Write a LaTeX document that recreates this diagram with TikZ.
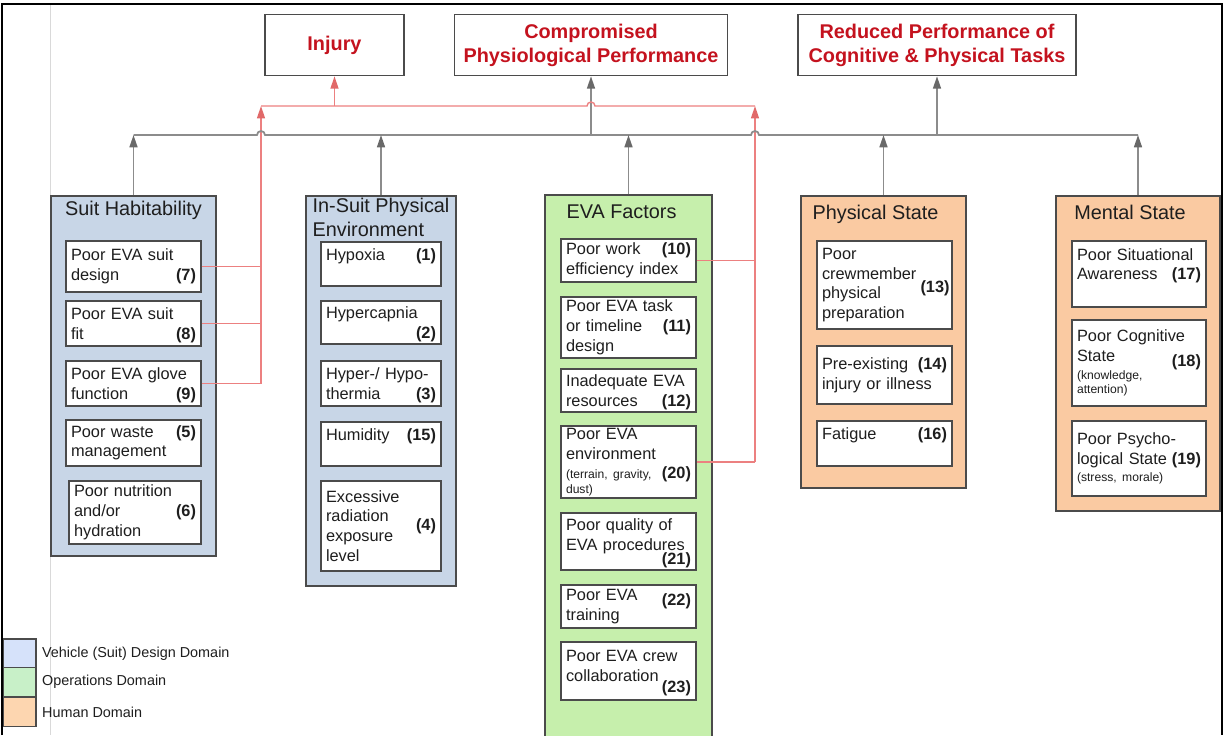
\documentclass[tikz,border=0pt]{standalone}
\usepackage{fontspec}
\setmainfont{Liberation Sans}
\usetikzlibrary{arrows.meta}

\definecolor{boxline}{RGB}{75,75,75}
\definecolor{textdark}{RGB}{30,30,30}
\definecolor{outred}{RGB}{196,18,30}
\definecolor{linkgray}{RGB}{140,140,140}
\definecolor{tipgray}{RGB}{105,105,105}
\definecolor{linkred}{RGB}{236,128,128}
\definecolor{tipred}{RGB}{225,105,105}
\definecolor{vehblue}{RGB}{200,214,231}
\definecolor{opsgreen}{RGB}{198,239,172}
\definecolor{humorange}{RGB}{250,202,162}
\definecolor{legblue}{RGB}{214,226,250}
\definecolor{leggreen}{RGB}{200,240,200}
\definecolor{legorange}{RGB}{253,214,176}

\newcommand\outcomefont{\fontsize{11.3}{13.6}\selectfont\bfseries}
\newcommand\titlefont{\fontsize{11.3}{13.6}\selectfont}
\newcommand\factfont{\fontsize{9.3}{11.3}\selectfont\hyphenpenalty=10000\exhyphenpenalty=10000}
\newcommand\notefont{\fontsize{6.9}{8}\selectfont\frenchspacing}
\newcommand\legendfont{\fontsize{8.2}{10}\selectfont}
\newcommand\factnum[2][0pt]{\leavevmode\unskip\nobreak\hspace{0.25em plus 1fill}\raisebox{#1}[0pt][0pt]{\textbf{(#2)}}}

\begin{document}
\begin{tikzpicture}[x=0.02cm, y=-0.02cm]
    \tikzstyle{outcome} = [rectangle, draw=boxline, line width=0.9pt, minimum height=1.22cm, align=center, text=outred, font=\outcomefont]
    \tikzstyle{groupbox} = [rectangle, draw=boxline, line width=0.9pt]
    \tikzstyle{grouptitle} = [anchor=north, align=left, font=\titlefont, text=textdark, inner sep=1.5pt]
    \tikzstyle{fact} = [rectangle, draw=boxline, fill=white, line width=0.8pt, align=left, inner xsep=0.1cm, inner ysep=0pt, font=\factfont, text=textdark]
    \tikzstyle{link} = [line width=1pt, draw=linkgray]
    \tikzstyle{arrow} = [link, -{Triangle[length=7pt,width=4.5pt,color=tipgray]}]
    \tikzstyle{redlink} = [line width=0.8pt, draw=linkred]
    \tikzstyle{redarrow} = [redlink, -{Triangle[length=7pt,width=4.5pt,color=tipred]}]
    \tikzstyle{legendbox} = [rectangle, draw=boxline, line width=0.6pt, minimum width=0.66cm, minimum height=0.58cm]
    \tikzstyle{legtext} = [font=\legendfont, text=textdark, inner sep=1pt, label distance=0.07cm]

    \useasboundingbox (0,0) rectangle (1225,735);
    \draw [gray!30, line width=0.5pt] (50,5) -- (50,735);

    \node (injury) [outcome, minimum width=2.78cm] at (334.5,45) {Injury};
    \node (comp) [outcome, minimum width=5.46cm] at (591,45) {Compromised\\Physiological Performance};
    \node (reduced) [outcome, minimum width=5.56cm] at (937,45) {Reduced Performance of\\Cognitive \& Physical Tasks};

    \node (suit) [groupbox, fill=vehblue, minimum width=3.3cm, minimum height=7.2cm, label={[grouptitle, yshift=-0.06cm]north:Suit Habitability}] at (133.5,376) {};
    \node (insuit) [groupbox, fill=vehblue, minimum width=3cm, minimum height=7.8cm, label={[grouptitle, inner sep=0.5pt, yshift=-0.03cm]north:In-Suit Physical\\Environment}] at (381,391) {};
    \node (eva) [groupbox, fill=opsgreen, minimum width=3.34cm, minimum height=11cm, label={[grouptitle, xshift=-0.14cm, yshift=-0.15cm]north:EVA Factors}] at (628.5,470) {};
    \node (phys) [groupbox, fill=humorange, minimum width=3.3cm, minimum height=5.84cm, label={[grouptitle, xshift=-0.16cm, yshift=-0.14cm]north:Physical State}] at (883.5,342) {};
    \node (mental) [groupbox, fill=humorange, minimum width=3.28cm, minimum height=6.3cm, label={[grouptitle, xshift=-0.16cm, yshift=-0.14cm]north:Mental State}] at (1138,353.5) {};

    \node (design) [fact, text width=2.5cm, minimum height=1.02cm] at (133.5,266.5) {Poor EVA suit\\design \factnum{7}};
    \node (fit) [fact, text width=2.5cm, minimum height=0.9cm] at (133.5,323.5) {Poor EVA suit\\fit \factnum{8}};
    \node (glove) [fact, text width=2.5cm, minimum height=0.9cm] at (133.5,383.5) {Poor EVA glove\\function \factnum{9}};
    \node (waste) [fact, text width=2.5cm, minimum height=0.92cm] at (133.5,443) {Poor waste \factnum{5}\\management};
    \node (nutrition) [fact, text width=2.44cm, minimum height=1.26cm] at (135,512.5) {Poor nutrition\\and/or \factnum{6}\\hydration};

    \node (hypoxia) [fact, text width=2.2cm, minimum height=0.88cm] at (381,264) {Hypoxia \factnum{1}\\\mbox{}};
    \node (hypercapnia) [fact, text width=2.2cm, minimum height=0.86cm] at (381,322.5) {Hypercapnia\\ \factnum{2}};
    \node (thermia) [fact, text width=2.2cm, minimum height=0.9cm] at (381,383.5) {Hyper-/ Hypo-\\thermia \factnum{3}};
    \node (humidity) [fact, text width=2.2cm, minimum height=0.88cm] at (381,444) {Humidity \factnum{15}\\\mbox{}};
    \node (radiation) [fact, text width=2.2cm, minimum height=1.8cm] at (381,526) {Excessive\\radiation \factnum[-5pt]{4}\\exposure\\level};

    \node (efficiency) [fact, text width=2.5cm, minimum height=0.86cm] at (628.5,260.5) {Poor work \factnum{10}\\efficiency index};
    \node (timeline) [fact, text width=2.5cm, minimum height=1.22cm] at (628.5,327.5) {Poor EVA task\\or timeline \factnum{11}\\design};
    \node (resources) [fact, text width=2.5cm, minimum height=0.86cm] at (628.5,390.5) {Inadequate EVA\\resources \factnum{12}};
    \node (terrain) [fact, text width=2.5cm, minimum height=1.44cm] at (628.5,462) {Poor EVA\\environment\\{\notefont (terrain, gravity,}\factnum{20}\\[-3pt]{\notefont dust)}};
    \node (procedures) [fact, text width=2.5cm, minimum height=1.14cm] at (628.5,541.5) {Poor quality of\\EVA procedures\\[-3pt]\factnum{21}};
    \node (training) [fact, text width=2.5cm, minimum height=0.86cm] at (628.5,606.5) {Poor EVA \factnum[-3pt]{22}\\training};
    \node (collab) [fact, text width=2.5cm, minimum height=1.16cm] at (628.5,671) {Poor EVA crew\\collaboration\\[-5pt]\factnum{23}};

    \node (preparation) [fact, text width=2.5cm, minimum height=1.76cm] at (884.5,285) {Poor\\crewmember \factnum[-7.5pt]{13}\\physical\\preparation};
    \node (preexisting) [fact, text width=2.5cm, minimum height=1.16cm] at (884.5,375) {Pre-existing \factnum{14}\\injury or illness};
    \node (fatigue) [fact, text width=2.5cm, minimum height=0.9cm] at (884.5,443.5) {Fatigue \factnum{16}\\\mbox{}};

    \node (awareness) [fact, text width=2.48cm, minimum height=1.32cm] at (1139,274) {Poor Situational\\Awareness \factnum{17}\\\mbox{}};
    \node (cognitive) [fact, text width=2.48cm, minimum height=1.72cm] at (1139,363) {Poor Cognitive\\State \factnum[-3pt]{18}\\[-1pt]{\notefont (knowledge,}\\[-3pt]{\notefont attention)}};
    \node (psycho) [fact, text width=2.48cm, minimum height=1.5cm] at (1139,458.5) {Poor Psycho-\\logical State \factnum{19}\\[-1.5pt]{\notefont (stress, morale)}};

    \node (legveh) [legendbox, fill=legblue, label={[legtext]east:Vehicle (Suit) Design Domain}] at (19.5,653.5) {};
    \node (legops) [legendbox, fill=leggreen, label={[legtext]east:Operations Domain}] at (19.5,682) {};
    \node (leghum) [legendbox, fill=legorange, label={[legtext]east:Human Domain}] at (19.5,712) {};

    \coordinate (bus) at (0,135);
    \coordinate (redbus) at (0,106);
    \coordinate (redL) at (261,106);
    \coordinate (redR) at (755,106);
    \coordinate (hopL) at (261,135);
    \coordinate (hopR) at (755,135);
    \coordinate (hopC) at (591,106);

    \draw [redlink] (design.east) -- (design.east -| redL);
    \draw [redlink] (fit.east) -- (fit.east -| redL);
    \draw [redlink] (glove.east) -- (glove.east -| redL);
    \draw [redarrow] (glove.east -| redL) -- (redL);
    \draw [redlink] (efficiency.east) -- (efficiency.east -| redR);
    \draw [redlink] (terrain.east) -- (terrain.east -| redR);
    \draw [redarrow] (terrain.east -| redR) -- (redR);

    \draw [link] (suit.north |- bus) -- ([xshift=-0.08cm]hopL) arc[start angle=180, end angle=0, radius=0.08cm] -- ([xshift=-0.08cm]hopR) arc[start angle=180, end angle=0, radius=0.08cm] -- (mental.north |- bus);
    \draw [arrow] (suit.north) -- (suit.north |- bus);
    \draw [arrow] (insuit.north) -- (insuit.north |- bus);
    \draw [arrow] (eva.north) -- (eva.north |- bus);
    \draw [arrow] (phys.north) -- (phys.north |- bus);
    \draw [arrow] (mental.north) -- (mental.north |- bus);
    \draw [arrow] (comp.south |- bus) -- (comp.south);
    \draw [arrow] (reduced.south |- bus) -- (reduced.south);

    \draw [redlink] (redL) -- ([xshift=-0.08cm]hopC) arc[start angle=180, end angle=0, radius=0.08cm] -- (redR);
    \draw [redarrow] (injury.south |- redbus) -- (injury.south);

    \draw [line width=1.3pt] (2,735) -- (2,4) -- (1222,4) -- (1222,735);
\end{tikzpicture}
\end{document}
